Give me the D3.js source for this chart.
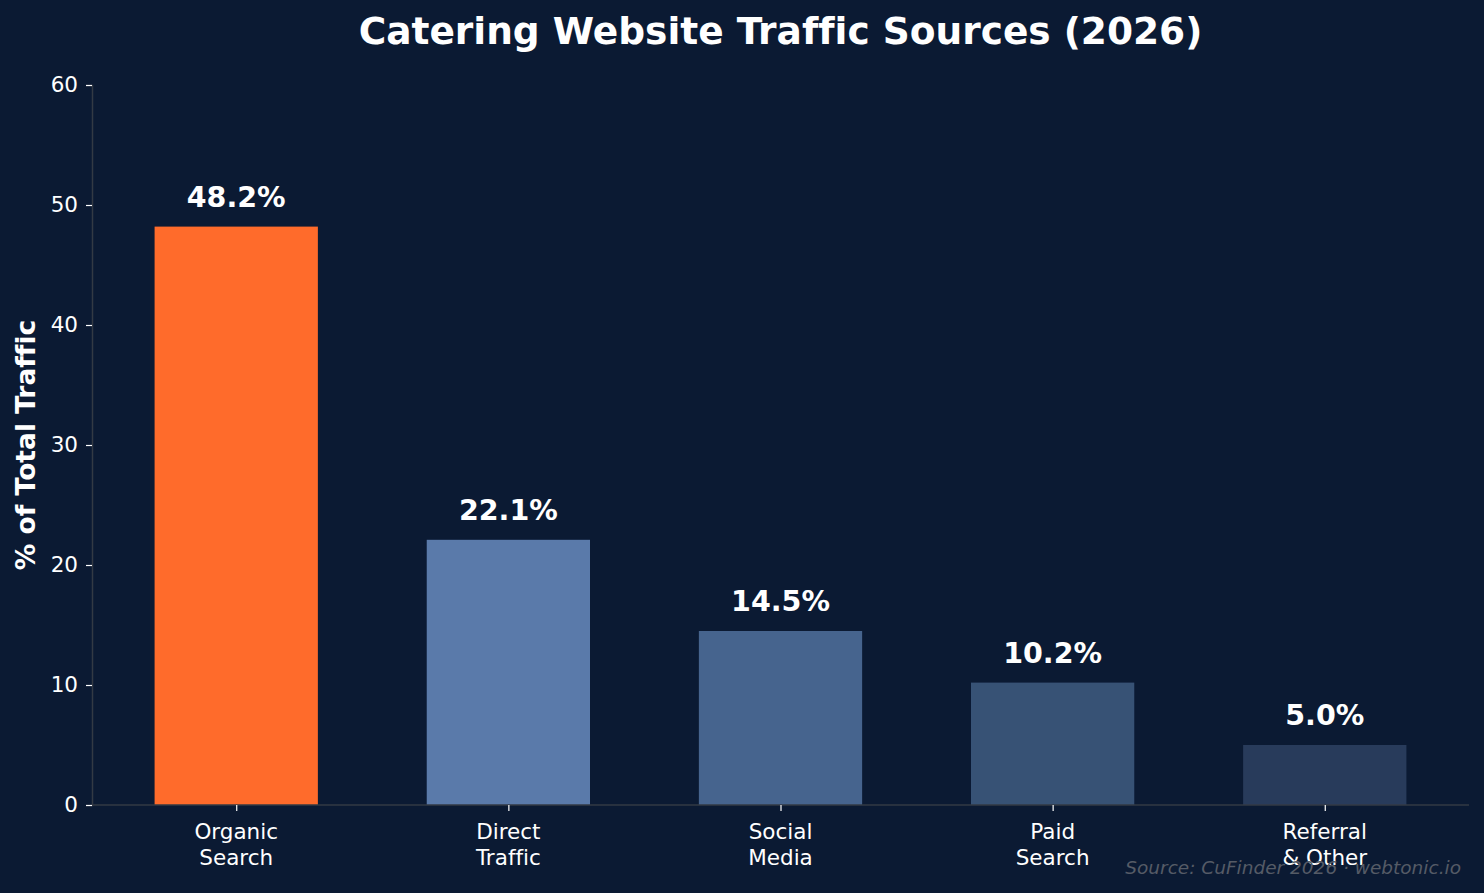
<!DOCTYPE html>
<html>
<head>
<meta charset="utf-8">
<script src="https://cdn.jsdelivr.net/npm/d3@7"></script>
<style>
  body { margin: 0; background: #0b1a33; }
  svg { display: block; font-family: 'DejaVu Sans', sans-serif; font-variant-ligatures: none; }
</style>
</head>
<body>
<div class="chart"></div>
<script>
(() => {
var categories = ['Organic\nSearch', 'Direct\nTraffic', 'Social\nMedia', 'Paid\nSearch', 'Referral\n& Other'];
var shares = [48.2, 22.1, 14.5, 10.2, 5.0];
var barColors = ['#ff6b2b', '#5a7aaa', '#46648e', '#375275', '#283b5b'];
var yTicks = [0, 10, 20, 30, 40, 50, 60];

var width = 1484,
    height = 893,
    margin = {top: 85, right: 15, bottom: 88, left: 92};

var svg = d3.select('div.chart')
    .append('svg')
        .attr('width', width)
        .attr('height', height);

svg.append('rect')
    .attr('width', width)
    .attr('height', height)
    .attr('fill', '#0b1a33');

// matplotlib-like x extent: bars of width 0.6, 5% margins
var x = d3.scaleLinear()
    .domain([-0.53, categories.length - 1 + 0.53])
    .range([margin.left, width - margin.right]);

var y = d3.scaleLinear()
    .domain([0, 60])
    .range([height - margin.bottom, margin.top]);

var barW = x(0.6) - x(0);

svg.selectAll('rect.bar')
    .data(shares)
    .enter()
    .append('rect')
        .attr('class', 'bar')
        .attr('x', (d, i) => x(i) - barW / 2)
        .attr('y', (d) => y(d))
        .attr('width', barW)
        .attr('height', (d) => y(0) - y(d))
        .attr('fill', (d, i) => barColors[i]);

svg.selectAll('text.value')
    .data(shares)
    .enter()
    .append('text')
        .attr('class', 'value')
        .attr('x', (d, i) => x(i))
        .attr('y', (d) => y(d) - 20)
        .attr('text-anchor', 'middle')
        .attr('fill', '#ffffff')
        .style('font-size', '28.5px')
        .style('font-weight', 'bold')
        .text((d) => d.toFixed(1) + '%');

// y axis
var yAxis = svg.append('g')
    .attr('transform', 'translate(' + margin.left + ',0)')
    .call(d3.axisLeft(y).tickValues(yTicks).tickSize(6).tickPadding(8));
yAxis.select('.domain').attr('stroke', '#333a44').attr('stroke-width', 1.5);
yAxis.selectAll('.tick line').attr('stroke', '#ffffff').attr('stroke-width', 1.2);
yAxis.selectAll('.tick text')
    .attr('fill', '#ffffff')
    .style('font-size', '21.5px')
    .style('font-family', 'DejaVu Sans, sans-serif');

// x axis
var xAxis = svg.append('g')
    .attr('transform', 'translate(0,' + y(0) + ')')
    .call(d3.axisBottom(x).tickValues(d3.range(categories.length)).tickSize(6).tickFormat(''));
xAxis.select('.domain').attr('stroke', '#333a44').attr('stroke-width', 1.5)
    .attr('d', 'M' + margin.left + ',0H' + (width - margin.right));
xAxis.selectAll('.tick line').attr('stroke', '#ffffff').attr('stroke-width', 1.2);

svg.selectAll('text.cat')
    .data(categories)
    .enter()
    .append('text')
        .attr('class', 'cat')
        .attr('x', (d, i) => x(i))
        .attr('y', y(0) + 34)
        .attr('text-anchor', 'middle')
        .attr('fill', '#ffffff')
        .style('font-size', '21.5px')
        .each(function(d) {
            var lines = d.split('\n');
            d3.select(this).selectAll('tspan')
                .data(lines)
                .enter()
                .append('tspan')
                    .attr('x', d3.select(this).attr('x'))
                    .attr('dy', (l, j) => j === 0 ? 0 : 26)
                    .text((l) => l);
        });

// titles
svg.append('text')
    .attr('x', (margin.left + width - margin.right) / 2)
    .attr('y', 44)
    .attr('text-anchor', 'middle')
    .attr('fill', '#ffffff')
    .style('font-size', '37.5px')
    .style('font-weight', 'bold')
    .text('Catering Website Traffic Sources (2026)');

svg.append('text')
    .attr('transform', 'translate(35,' + ((margin.top + height - margin.bottom) / 2) + ') rotate(-90)')
    .attr('text-anchor', 'middle')
    .attr('fill', '#ffffff')
    .style('font-size', '26.5px')
    .style('font-weight', 'bold')
    .text('% of Total Traffic');

svg.append('text')
    .attr('x', 1461)
    .attr('y', 874)
    .attr('text-anchor', 'end')
    .attr('fill', '#555b66')
    .style('font-size', '18.5px')
    .style('font-style', 'italic')
    .text('Source: CuFinder 2026 · webtonic.io');
})();
</script>
</body>
</html>
